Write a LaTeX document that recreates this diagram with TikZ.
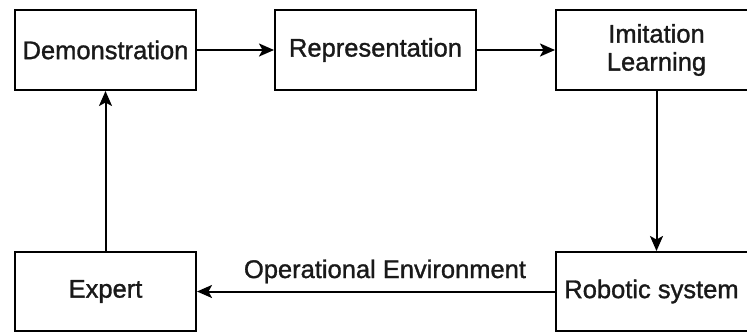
\documentclass[tikz,border=0pt]{standalone}
\usepackage{fontspec}
\setmainfont{Liberation Sans}
\newfontfamily\diafont[FakeBold=1.2]{Liberation Sans}
\usetikzlibrary{arrows.meta}
\begin{document}
\begin{tikzpicture}[x=1pt,y=-1pt,
  txt/.style={font=\diafont\fontsize{25.5}{29}\selectfont,text=black!90},
  box/.style={txt,draw=black,line width=2pt,fill=white,inner sep=0pt,align=center},
  conn/.style={draw=black,line width=2pt,-{Stealth[length=15pt,width=13pt,inset=3.5pt]}}]
\useasboundingbox (0,0) rectangle (747,333);
\clip (0,0) rectangle (747,333);
% boxes
\node[box,minimum width=181pt,minimum height=80pt] (demo) at (105.5,50) {Demonstration};
\node[box,minimum width=201pt,minimum height=80pt] (rep) at (375.5,50) {Representation};
\node[box,minimum width=201pt,minimum height=80pt] (imit) at (656.5,50) {Imitation\\[-1pt]Learning};
\node[box,minimum width=181pt,minimum height=79pt] (expert) at (105.5,291.5) {Expert};
\node[box,minimum width=201pt,minimum height=79pt] (robot) at (656.5,291.5) {\hspace*{-10pt}Robotic system};
% connectors
\draw[conn] (demo.east) -- (rep.west);
\draw[conn] (rep.east) -- (imit.west);
\draw[conn] (imit.south) -- (robot.north);
\draw[conn] (robot.west) -- (expert.east);
\draw[conn] (expert.north) -- (demo.south);
\node[txt,anchor=base,inner sep=0pt] (envlabel) at (385,278) {Operational Environment};
\end{tikzpicture}
\end{document}
